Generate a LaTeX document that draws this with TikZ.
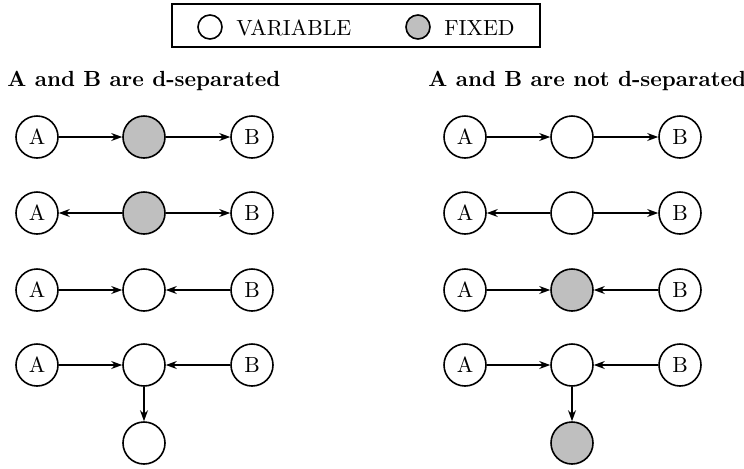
\documentclass[11pt,tikz,border=0pt]{standalone}
\usetikzlibrary{arrows.meta}
\begin{document}
\begin{tikzpicture}[x=0.5pt,y=-0.5pt,
  var/.style={circle,draw,line width=0.8pt,minimum size=21pt,inner sep=0pt,fill=white},
  fix/.style={var,fill=gray!50},
  lvar/.style={circle,draw,line width=0.8pt,minimum size=12pt,inner sep=0pt},
  lfix/.style={lvar,fill=gray!50},
  arr/.style={-{Stealth[length=5.5pt,width=4pt,inset=1.8pt]},line width=0.6pt},
  ttl/.style={font=\bfseries,anchor=west,inner sep=0pt}]
\useasboundingbox (0,0) rectangle (744,468);
% legend
\node[draw,line width=0.8pt,minimum width=184pt,minimum height=21.5pt,inner sep=0pt] (legend) at (356,25.5) {};
\node[lvar] (lv) at (210,27) {};
\node[anchor=west,inner sep=0pt] (lvt) at (236,28) {VARIABLE};
\node[lfix] (lf) at (418,27) {};
\node[anchor=west,inner sep=0pt] (lft) at (444,28) {FIXED};
% titles
\node[ttl] (t1) at (7,81) {A and B are d-separated};
\node[ttl] (t2) at (428,81) {A and B are not d-separated};
% left column
\node[var] (a1) at (37,137) {A};
\node[fix] (m1) at (144,137) {};
\node[var] (b1) at (252,137) {B};
\draw[arr] (a1) -- (m1); \draw[arr] (m1) -- (b1);
\node[var] (a2) at (37,213) {A};
\node[fix] (m2) at (144,213) {};
\node[var] (b2) at (252,213) {B};
\draw[arr] (m2) -- (a2); \draw[arr] (m2) -- (b2);
\node[var] (a3) at (37,290) {A};
\node[var] (m3) at (144,290) {};
\node[var] (b3) at (252,290) {B};
\draw[arr] (a3) -- (m3); \draw[arr] (b3) -- (m3);
\node[var] (a4) at (37,365) {A};
\node[var] (m4) at (144,365) {};
\node[var] (b4) at (252,365) {B};
\node[var] (c4) at (144,443) {};
\draw[arr] (a4) -- (m4); \draw[arr] (b4) -- (m4); \draw[arr] (m4) -- (c4);
% right column
\node[var] (ra1) at (465,137) {A};
\node[var] (rm1) at (572,137) {};
\node[var] (rb1) at (680,137) {B};
\draw[arr] (ra1) -- (rm1); \draw[arr] (rm1) -- (rb1);
\node[var] (ra2) at (465,213) {A};
\node[var] (rm2) at (572,213) {};
\node[var] (rb2) at (680,213) {B};
\draw[arr] (rm2) -- (ra2); \draw[arr] (rm2) -- (rb2);
\node[var] (ra3) at (465,290) {A};
\node[fix] (rm3) at (572,290) {};
\node[var] (rb3) at (680,290) {B};
\draw[arr] (ra3) -- (rm3); \draw[arr] (rb3) -- (rm3);
\node[var] (ra4) at (465,365) {A};
\node[var] (rm4) at (572,365) {};
\node[var] (rb4) at (680,365) {B};
\node[fix] (rc4) at (572,443) {};
\draw[arr] (ra4) -- (rm4); \draw[arr] (rb4) -- (rm4); \draw[arr] (rm4) -- (rc4);
\end{tikzpicture}
\end{document}
